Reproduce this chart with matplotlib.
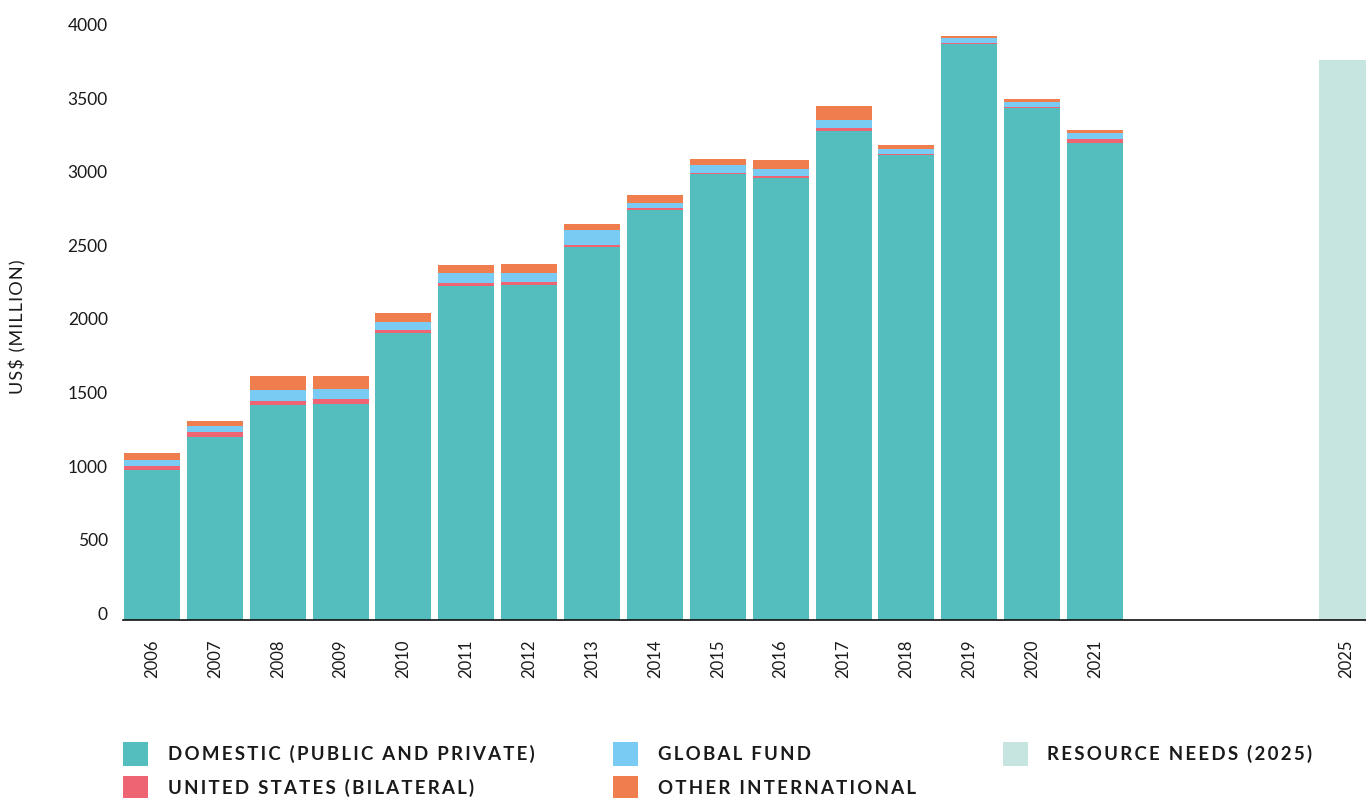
import numpy as np
import matplotlib.pyplot as plt
from matplotlib.patches import Rectangle

# data (US$ million)
years = [2006, 2007, 2008, 2009, 2010, 2011, 2012, 2013,
         2014, 2015, 2016, 2017, 2018, 2019, 2020, 2021]
domestic = [1019, 1243, 1460, 1469, 1947, 2268, 2275, 2533,
            2784, 3029, 3002, 3321, 3158, 3912, 3477, 3239]
us_bilateral = [27, 34, 27, 32, 22, 21, 20, 14, 14, 7, 13, 22, 7, 7, 7, 28]
global_fund = [41, 40, 75, 68, 55, 68, 62, 102, 34, 54, 48, 53, 34, 33, 34, 40]
other_intl = [47, 34, 95, 88, 61, 54, 61, 40, 54, 41, 61, 95, 27, 14, 20, 21]
needs_year = [2025]
needs = [3803]

labels = ['DOMESTIC (PUBLIC AND PRIVATE)', 'UNITED STATES (BILATERAL)',
          'GLOBAL FUND', 'OTHER INTERNATIONAL', 'RESOURCE NEEDS (2025)']
colors = ['#54BDBD', '#EE6472', '#79CBF4', '#F07D4E', '#C6E5E1']

txt = '#1a1a1a'
fam = ['Lato', 'DejaVu Sans']


def spaced(s, n=1):
    # fake letter spacing with hair spaces
    return ('\u200a' * n).join(s)


fig = plt.figure(figsize=(13.66, 7.98), dpi=100)
ax = fig.add_axes([123 / 1366, 178 / 798, 1 - 123 / 1366, 620 / 798])

w = 0.89
bottom = np.zeros(len(years))
for vals, c in zip([domestic, us_bilateral, global_fund, other_intl], colors[:4]):
    ax.bar(years, vals, width=w, bottom=bottom, color=c, linewidth=0)
    bottom += np.array(vals)
ax.bar(needs_year, needs, width=w, color=colors[4], linewidth=0)

ax.set_xlim(2006 - 0.461, 2025.31)
ax.set_ylim(0, 4210)
ax.set_yticks(range(0, 4001, 500))
ax.set_xticks(years + needs_year)
ax.set_xticklabels([str(y) for y in years + needs_year], rotation=90,
                   fontsize=12, family=fam, color=txt, va='top')
ax.tick_params(axis='x', length=0, pad=14)
ax.tick_params(axis='y', length=0, pad=11, labelsize=12.5, labelcolor=txt)
for t in ax.get_yticklabels():
    t.set_family(fam)
    t.set_verticalalignment('baseline')

for s in ['top', 'right', 'left']:
    ax.spines[s].set_visible(False)
ax.spines['bottom'].set_color('#111111')
ax.spines['bottom'].set_linewidth(1.2)

fig.text(18 / 1366, 1 - 327 / 798, spaced('US$ (MILLION)'), rotation=90,
         ha='center', va='center', fontsize=13, family=fam, color=txt)

# legend, laid out like the reference
cols = [(123, 168), (613, 658), (1003, 1047)]
rows = [754, 788]
order = [(0, 0), (0, 1), (1, 0), (1, 1), (2, 0)]
for lab, c, (ci, ri) in zip(labels, colors, order):
    px, tx = cols[ci]
    py = rows[ri]
    fig.patches.append(Rectangle((px / 1366, 1 - (py + 12) / 798), 25 / 1366, 24 / 798,
                                 transform=fig.transFigure, color=c, linewidth=0))
    fig.text(tx / 1366, 1 - py / 798, spaced(lab, 2), ha='left', va='center',
             fontsize=13.4, fontweight='bold', family=fam, color=txt)

fig.savefig('out.png', dpi=100)
